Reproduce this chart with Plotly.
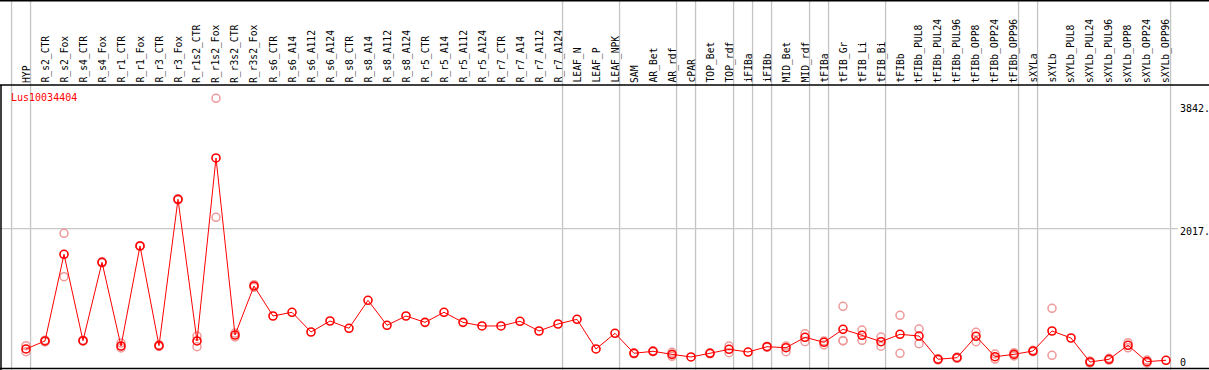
import plotly.graph_objects as go

categories = [
    "HYP", "R_s2_CTR", "R_s2_Fox", "R_s4_CTR", "R_s4_Fox", "R_r1_CTR", "R_r1_Fox",
    "R_r3_CTR", "R_r3_Fox", "R_r1s2_CTR", "R_r1s2_Fox", "R_r3s2_CTR", "R_r3s2_Fox",
    "R_s6_CTR", "R_s6_A14", "R_s6_A112", "R_s6_A124", "R_s8_CTR", "R_s8_A14",
    "R_s8_A112", "R_s8_A124", "R_r5_CTR", "R_r5_A14", "R_r5_A112", "R_r5_A124",
    "R_r7_CTR", "R_r7_A14", "R_r7_A112", "R_r7_A124", "LEAF_N", "LEAF_P", "LEAF_NPK",
    "SAM", "AR_Bet", "AR_rdf", "cPAR", "TOP_Bet", "TOP_rdf", "iFIBa", "iFIBb",
    "MID_Bet", "MID_rdf", "tFIBa", "tFIB_Gr", "tFIB_Li", "tFIB_Bi", "tFIBb",
    "tFIBb_PUL8", "tFIBb_PUL24", "tFIBb_PUL96", "tFIBb_OPP8", "tFIBb_OPP24",
    "tFIBb_OPP96", "sXYLa", "sXYLb", "sXYLb_PUL8", "sXYLb_PUL24", "sXYLb_PUL96",
    "sXYLb_OPP8", "sXYLb_OPP24", "sXYLb_OPP96",
]

mean_values = [
    197, 318, 1629, 322, 1508, 242, 1755, 247, 2461, 318, 3086, 408, 1150,
    696, 752, 454, 620, 510, 933, 555, 696, 600, 752, 600, 545, 545, 616, 469, 575,
    646, 197, 434,
    132, 162, 116, 76, 132, 192, 151, 231, 216, 374, 298, 495, 404, 307,
    419, 393, 41, 65, 389, 80, 116, 166, 469, 363, 0, 41, 253, 5, 26,
]

rep_a = [
    247, 330, 1947, 330, 1515, 287, 1760, 260, 2470, 393, 3989, 378, 1170,
    None, None, None, None, None, None, None, None, None, None, None, None, None, None, None, None,
    None, None, None,
    140, 170, 146, None, 140, 242, None, 240, 242, 428, 318, 842, 484, 378,
    706, 499, 50, 75, 449, 121, 141, 176, 812, None, 15, 55, 292, 30, None,
]

rep_b = [
    156, 306, 1290, 314, 1500, 212, 1750, 235, 2452, 231, 2189, 438, 1130,
    None, None, None, None, None, None, None, None, None, None, None, None, None, None, None, None,
    None, None, None,
    124, 155, 86, None, 124, 141, None, 222, 156, 307, 257, 318, 328, 240,
    132, 277, 32, 55, 307, 45, 91, 156, 101, None, -15, 27, 214, -15, None,
]

rep_c = [None] * 43 + [325] + [None] * 17

group_ends = [-1, 0, 28, 31, 34, 35, 37, 38, 39, 41, 42, 45, 52, 53, 60]

y_ticks = [0, 2017, 3842]
y_tick_text = ["0", "2017.", "3842."]
gene_name = "Lus10034404"

W, H = 1209, 370
header_px = 85
first_px, step_px = 26, 19
x0 = -first_px / step_px
x1 = x0 + W / step_px
px_per_unit = 254 / 3842
y_lo = -(H - 362) / px_per_unit
y_hi = (362 - header_px) / px_per_unit

xs = list(range(len(categories)))
MONO = "DejaVu Sans Mono"
pink = "#EE9A9A"

fig = go.Figure()
for reps in (rep_a, rep_b, rep_c):
    fig.add_trace(go.Scatter(
        x=xs, y=reps, mode="markers",
        marker=dict(symbol="circle-open", size=8, color=pink, line=dict(width=1.5, color=pink)),
        hoverinfo="skip", showlegend=False, cliponaxis=False,
    ))
fig.add_trace(go.Scatter(
    x=xs, y=mean_values, mode="lines+markers",
    line=dict(color="#FF0000", width=1),
    marker=dict(symbol="circle-open", size=8, color="#FF0000", line=dict(width=1.6, color="#FF0000")),
    showlegend=False,
))

shapes = []
for g in group_ends:
    shapes.append(dict(type="line", xref="x", yref="paper", x0=g + 0.24, x1=g + 0.24,
                       y0=0, y1=1, line=dict(color="#C4C4C4", width=1.3), layer="below"))
shapes.append(dict(type="line", xref="paper", yref="y", x0=0, x1=1178 / W,
                   y0=y_ticks[1], y1=y_ticks[1], line=dict(color="#C8C8C8", width=1.3), layer="below"))
for yy in (1 - 0.7 / H, 1 - header_px / H, 1.5 / H):
    shapes.append(dict(type="line", xref="paper", yref="paper", x0=0, x1=1, y0=yy, y1=yy,
                       line=dict(color="black", width=1.5)))
shapes.append(dict(type="line", xref="paper", yref="paper", x0=1 / W, x1=1 / W,
                   y0=0, y1=1 - header_px / H, line=dict(color="black", width=1.5)))

annotations = []
for i, name in zip(xs, categories):
    annotations.append(dict(x=i, xref="x", y=1 - 84 / H, yref="paper", text=name,
                            showarrow=False, textangle=-90, xanchor="center", yanchor="bottom",
                            borderpad=0, font=dict(family=MONO, size=9.7, color="black")))
for v, t, dy in zip(y_ticks, y_tick_text, [0, -3, 0]):
    annotations.append(dict(x=1178 / W, xref="paper", y=v, yref="y", text=t, showarrow=False,
                            xanchor="left", yanchor="middle", yshift=dy,
                            font=dict(family=MONO, size=10, color="black")))
annotations.append(dict(x=9 / W, xref="paper", y=1 - 98 / H, yref="paper", text=gene_name,
                        showarrow=False, xanchor="left", yanchor="middle",
                        font=dict(family=MONO, size=10, color="#FF0000")))

fig.update_layout(
    width=W, height=H, margin=dict(l=0, r=0, t=0, b=0),
    paper_bgcolor="white", plot_bgcolor="white",
    xaxis=dict(domain=[0, 1], range=[x0, x1], showticklabels=False, ticks="",
               showgrid=False, zeroline=False, showline=False),
    yaxis=dict(domain=[0, 1 - header_px / H], range=[y_lo, y_hi], showgrid=False,
               zeroline=False, showticklabels=False, showline=False),
    shapes=shapes, annotations=annotations,
)

fig.write_html(
    "out.html",
    config={"displayModeBar": False},
    post_script="document.body.style.margin='0';document.body.style.padding='0';"
                "document.documentElement.style.overflow='hidden';",
)
